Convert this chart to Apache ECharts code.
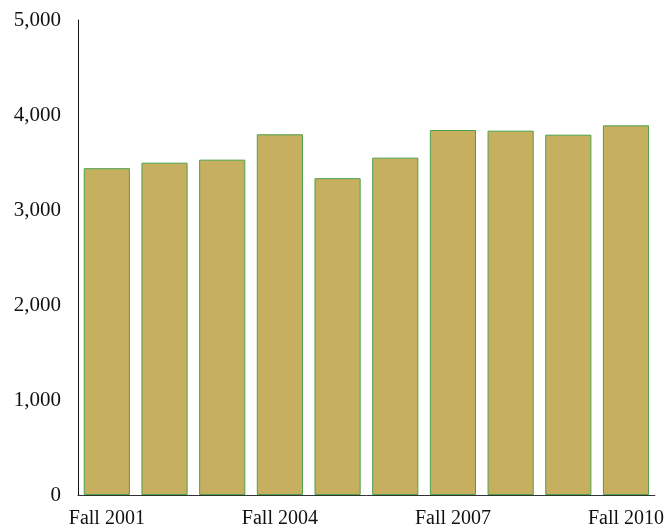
<!DOCTYPE html>
<html><head><meta charset="utf-8">
<script src="https://cdn.jsdelivr.net/npm/echarts@6/dist/echarts.min.js"></script>
<style>html,body{margin:0;padding:0;background:#fff}#c{width:667px;height:529px}</style>
</head><body><div id="c"></div>
<script>
const categories = ["Fall 2001","Fall 2002","Fall 2003","Fall 2004","Fall 2005","Fall 2006","Fall 2007","Fall 2008","Fall 2009","Fall 2010"];
const values = [3440, 3498, 3530, 3797, 3335, 3551, 3842, 3835, 3793, 3891];
const chart = echarts.init(document.getElementById('c'));
chart.setOption({
  animation:false,
  grid:{left:78,right:11,top:20,bottom:33,containLabel:false},
  xAxis:{type:'category',data:categories,
    axisLine:{lineStyle:{color:'#333',width:1}},
    axisTick:{show:false},
    axisLabel:{interval:2,color:'#111',fontFamily:'Liberation Serif',fontSize:20,margin:14}
  },
  yAxis:{type:'value',min:0,max:5000,interval:1000,
    axisLine:{show:true,lineStyle:{color:'#111',width:1}},
    axisTick:{show:false},
    splitLine:{show:false},
    axisLabel:{color:'#111',fontFamily:'Liberation Serif',fontSize:21,margin:17,
      formatter:v=>v.toLocaleString('en-US')}
  },
  series:[{type:'bar',data:values,barCategoryGap:'20%',
    itemStyle:{color:'#C6B060',borderColor:'#4CA04C',borderWidth:1}}]
});
</script></body></html>
